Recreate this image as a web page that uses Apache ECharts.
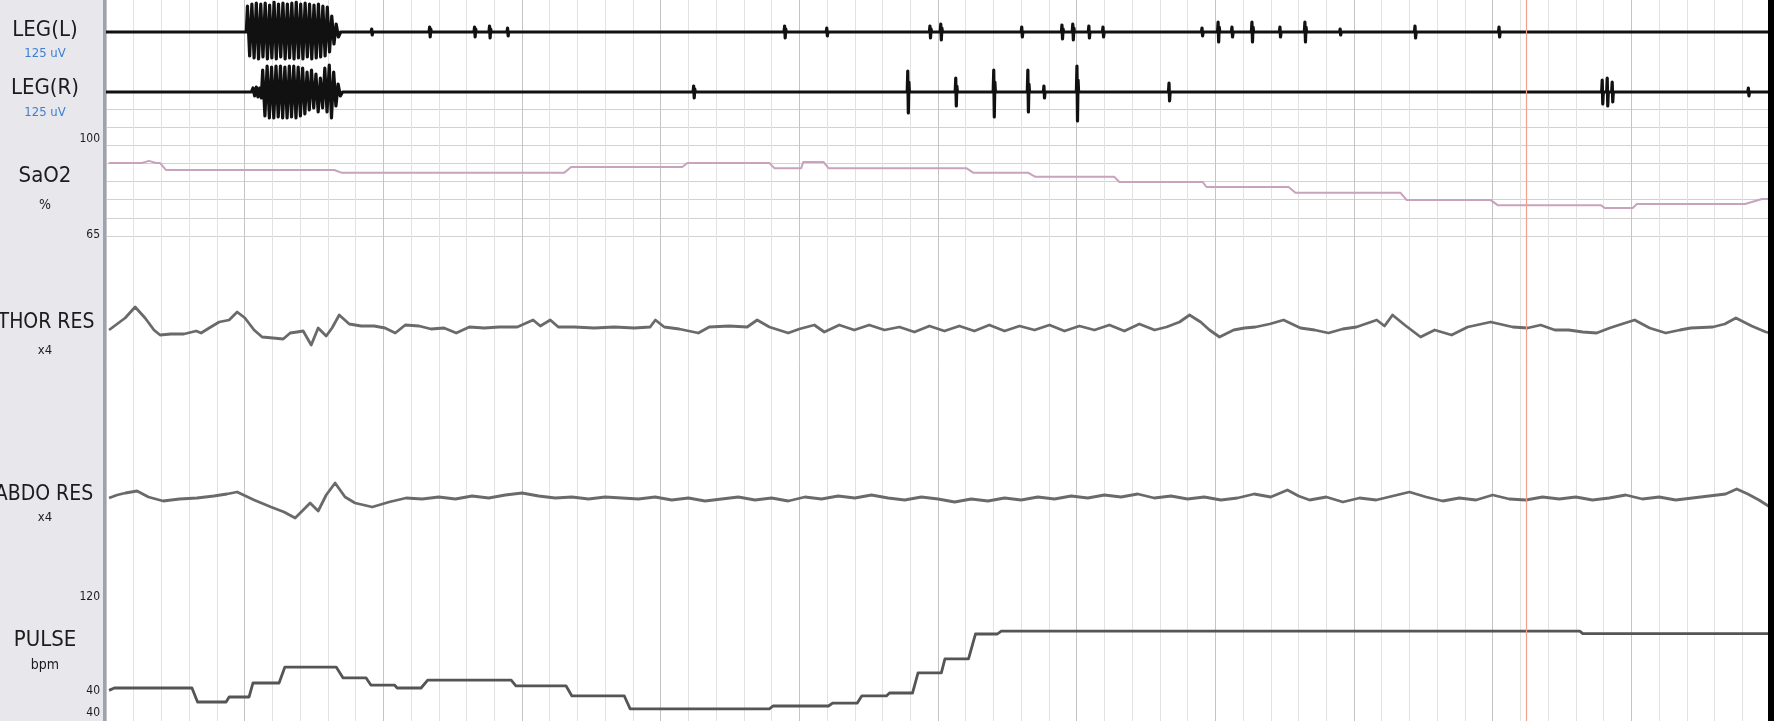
<!DOCTYPE html>
<html>
<head>
<meta charset="utf-8">
<script src="https://cdn.jsdelivr.net/npm/echarts@6/dist/echarts.min.js"></script>
<style>
html,body{margin:0;padding:0;background:#fff;}
#chart{width:1774px;height:721px;}
</style>
</head>
<body>
<div id="chart"></div>
<script>
// ---- Data (time in seconds across the 600 s page) ----
const channelNames = ['LEG(L)', 'LEG(R)', 'SaO2', 'THOR RES', 'ABDO RES', 'PULSE'];
const channelUnits = ['125 uV', '125 uV', '%', 'x4', 'x4', 'bpm'];
const saoTickLabels = ['100', '65'];
const pulseTickLabels = ['120', '40', '40'];
const cursorTime = 512;

const legL = [
[0,0],[17.6,0],[17.8,2],[18.0,-2],[18.2,0],
[50.6,0],[51.0,26],[51.8,-24],[52.6,28],[53.4,-26],[54.2,29],[55.0,-27],[55.8,28],[56.6,-25],[57.4,29],[58.2,-27],[59.0,27],[59.8,-26],[60.6,30],[61.4,-27],[62.2,28],[63.0,-25],[63.8,29],[64.6,-27],[65.4,28],[66.2,-26],[67.0,29],[67.8,-27],[68.6,30],[69.4,-26],[70.2,28],[71.0,-27],[71.8,29],[72.6,-25],[73.4,28],[74.2,-27],[75.0,27],[75.8,-26],[76.6,28],[77.4,-25],[78.2,26],[79.0,-24],[79.8,25],[80.6,-20],[81.4,16],[82.2,-12],[83.0,8],[83.8,-5],[84.6,0],
[95.6,0],[95.8,3],[96.0,-3],[96.2,0],
[104.6,0],[104.8,2],[105.0,-2],[105.2,0],
[116.5,0],[116.7,5],[116.9,-5],[117.1,3],[117.3,0],
[132.7,0],[132.9,5],[133.1,-5],[133.3,3],[133.5,0],
[138.1,0],[138.3,6],[138.5,-6],[138.7,3],[138.9,0],
[144.6,0],[144.8,4],[145.0,-4],[145.2,0],
[244.5,0],[244.7,6],[244.9,-6],[245.1,3],[245.3,0],
[259.7,0],[259.9,4],[260.1,-4],[260.3,0],
[296.9,0],[297.1,6],[297.3,-6],[297.5,3],[297.7,0],
[300.8,0],[301.0,8],[301.2,-8],[301.4,4],[301.6,0],
[330.0,0],[330.2,5],[330.4,-5],[330.6,0],
[344.5,0],[344.7,7],[344.9,-7],[345.1,3],[345.3,0],
[348.4,0],[348.6,8],[348.8,-8],[349.0,4],[349.2,0],
[354.2,0],[354.4,6],[354.6,-6],[354.8,0],
[359.3,0],[359.5,5],[359.7,-5],[359.9,0],
[395.0,0],[395.2,4],[395.4,-4],[395.6,0],
[400.8,0],[401.0,10],[401.2,-10],[401.4,5],[401.6,0],
[405.8,0],[406.0,5],[406.2,-5],[406.4,0],
[413.0,0],[413.2,10],[413.4,-10],[413.6,5],[413.8,0],
[423.1,0],[423.3,5],[423.5,-5],[423.7,0],
[432.1,0],[432.3,10],[432.5,-10],[432.7,5],[432.9,0],
[444.8,0],[445.0,3],[445.2,-3],[445.4,0],
[471.8,0],[472.0,6],[472.2,-6],[472.4,0],
[502.1,0],[502.3,5],[502.5,-5],[502.7,0],
[600,0]
];

const legR = [
[0,0],
[52.4,0],[53.0,4],[53.6,-4],[54.2,5],[54.8,-5],[55.4,4],[56.0,-6],[56.5,22],[57.3,-24],[58.1,26],[58.9,-26],[59.7,25],[60.5,-26],[61.3,26],[62.1,-25],[62.9,26],[63.7,-26],[64.5,25],[65.3,-26],[66.1,26],[66.9,-25],[67.7,26],[68.5,-26],[69.3,25],[70.1,-24],[70.9,24],[71.7,-22],[72.5,20],[73.3,-18],[74.1,22],[74.9,-16],[75.7,18],[76.5,-20],[77.3,14],[78.1,-16],[78.9,24],[79.7,-20],[80.5,27],[81.3,-26],[82.1,20],[82.9,-14],[83.7,8],[84.5,-4],[85.3,0],
[211.7,0],[211.9,6],[212.1,-6],[212.3,3],[212.5,0],
[288.9,0],[289.1,21],[289.3,-21],[289.5,10],[289.7,0],
[306.2,0],[306.4,14],[306.6,-14],[306.8,6],[307.0,0],
[319.9,0],[320.1,22],[320.3,-25],[320.5,10],[320.7,0],
[332.2,0],[332.4,22],[332.6,-20],[332.8,8],[333.0,0],
[338.0,0],[338.2,6],[338.4,-6],[338.6,0],
[349.9,0],[350.1,26],[350.3,-29],[350.5,12],[350.7,0],
[383.1,0],[383.3,9],[383.5,-9],[383.7,0],
[539.3,0],[539.5,12],[539.7,-12],[539.9,0],
[541.1,0],[541.3,14],[541.5,-14],[541.7,0],
[542.9,0],[543.1,10],[543.3,-10],[543.5,0],
[592.0,0],[592.2,4],[592.4,-4],[592.6,0],
[600,0]
];

const sao2 = [
[1,85.1],[13,85.1],[15.5,85.7],[18,85.1],[19.5,85.1],[21.6,83.2],[82.3,83.2],[85.1,82.4],[165.2,82.4],[167.7,84.0],[207.8,84.0],[209.6,85.1],[239.2,85.1],[241.0,83.7],[250.7,83.7],[251.4,85.4],[258.7,85.4],[260.5,83.7],[310.2,83.7],[312.8,82.4],[332.6,82.4],[335.1,81.3],[363.6,81.3],[365.4,79.9],[395.4,79.9],[396.8,78.5],[426.4,78.5],[428.9,76.9],[466.8,76.9],[469.0,74.9],[499.3,74.9],[501.8,73.5],[539.0,73.5],[540.4,72.7],[550.5,72.7],[552.0,73.8],[591.0,73.8],[597.1,75.2],[600,75.2]
];

const thor = [
[1.1,-2],[4.0,4],[6.9,10],[10.5,21],[14.1,10],[17.3,-2],[19.5,-7],[23.4,-6],[28.1,-6],[32.5,-3],[34.3,-5],[37.2,0],[40.8,6],[44.4,8],[47.3,16],[50.1,10],[53.4,-2],[56.3,-9],[60.2,-10],[63.9,-11],[66.4,-5],[68.9,-4],[71.1,-3],[74.0,-17],[76.5,0],[79.4,-8],[81.5,0],[84.1,13],[87.7,4],[92.0,2],[96.7,2],[100.6,0],[104.3,-5],[107.9,3],[112.9,2],[117.2,-1],[121.9,0],[126.3,-5],[131.0,1],[136.4,0],[141.8,1],[148.3,1],[154.0,8],[156.6,2],[160.2,8],[163.1,1],[168.8,1],[176.0,0],[183.3,1],[190.5,0],[196.2,1],[198.1,8],[201.3,1],[206.7,-1],[213.6,-5],[217.5,1],[224.7,2],[231.2,1],[234.8,8],[239.2,1],[246.0,-5],[250.0,-1],[255.4,3],[259.0,-4],[264.4,3],[269.8,-2],[275.2,3],[280.7,-2],[286.1,1],[291.5,-4],[296.9,2],[302.3,-3],[307.7,2],[313.1,-3],[318.5,3],[324.0,-3],[329.4,2],[334.8,-2],[340.2,3],[345.6,-3],[351.0,2],[356.4,-2],[361.8,3],[367.2,-3],[372.6,4],[378.1,-2],[382.4,1],[387.1,6],[390.7,13],[394.7,6],[397.9,-2],[401.5,-9],[406.6,-2],[410.5,0],[414.5,1],[419.6,4],[424.6,8],[430.7,0],[435.8,-2],[440.8,-5],[445.9,-1],[450.9,1],[458.2,8],[461.0,2],[463.9,13],[468.3,3],[474.0,-9],[479.1,-2],[485.2,-7],[491.0,1],[499.3,6],[507.2,1],[512.6,0],[517.3,3],[522.4,-2],[527.4,-2],[532.5,-4],[537.5,-5],[542.2,0],[545.5,3],[551.2,8],[556.6,0],[562.4,-5],[567.5,-2],[571.4,0],[579.4,1],[583.7,4],[587.7,10],[593.4,2],[598.5,-4],[600,-5]
];

const abdo = [
[1.1,0],[4.0,3],[7.0,5],[11.2,7],[15.3,1],[20.6,-3],[26.5,-1],[32.8,0],[38.9,2],[43.6,4],[47.3,6],[53.4,-2],[59.5,-9],[64.2,-14],[68.2,-20],[71.1,-12],[73.6,-5],[76.5,-13],[79.4,3],[82.6,15],[86.2,1],[89.8,-5],[96.0,-9],[102.1,-4],[108.2,0],[114,-1],[120,1],[126,-1],[132,2],[138,0],[144,3],[150,5],[156,2],[162,0],[168,1],[174,-1],[180,1],[186,0],[192,-1],[198,1],[204,-2],[210,0],[216,-3],[222,-1],[228,1],[234,-2],[240,0],[246,-3],[252,1],[258,-1],[264,2],[270,0],[276,3],[282,0],[288,-2],[294,1],[300,-1],[306,-4],[312,-1],[318,-3],[324,0],[330,-2],[336,1],[342,-1],[348,2],[354,0],[360,3],[366,1],[372,4],[378,0],[384,2],[390,-1],[396,1],[402,-2],[408,0],[414,4],[420,1],[426,8],[430,2],[434,-2],[440,1],[446,-4],[452,0],[458,-2],[464,2],[470,6],[476,1],[482,-3],[488,0],[494,-2],[500,3],[506,-1],[512,-2],[518,1],[524,-1],[530,1],[536,-2],[542,0],[548,3],[554,-1],[560,1],[566,-2],[572,0],[578,2],[584,4],[588,9],[592,4],[596,-2],[600,-9]
];

const pulse = [
[1.1,54],[3.0,55.6],[31.0,55.6],[33.0,46.1],[43.3,46.1],[44.4,49.5],[51.6,49.5],[53.0,59],[62.4,59],[64.5,69.8],[83.0,69.8],[85.5,62.4],[93.8,62.4],[95.5,57.6],[104,57.6],[105,55.6],[113.6,55.6],[116.0,61],[146.1,61],[147.8,57],[165.9,57],[168.0,50.2],[186.9,50.2],[189.0,41.4],[239.2,41.4],[240.5,43.4],[260.5,43.4],[262.0,45.4],[270.9,45.4],[272.5,50.2],[281.4,50.2],[282.5,52.2],[290.8,52.2],[292.8,65.8],[301.2,65.8],[302.5,75.3],[311.0,75.3],[313.5,92.2],[321.4,92.2],[322.8,94.2],[531.4,94.2],[532.5,92.5],[600,92.5]
];

// ---- Chart ----
const chart = echarts.init(document.getElementById('chart'), null, {renderer: 'canvas'});
const L = 106, R = 4;
const FONT = "'Liberation Sans Narrow','DejaVu Sans Condensed','Arial Narrow',sans-serif";

const grids = [
  {left: L, right: R, top: 0, height: 721},   // background time grid
  {left: L, right: R, top: 2, height: 60},    // LEG(L)
  {left: L, right: R, top: 62, height: 60},   // LEG(R)
  {left: L, right: R, top: 109, height: 127}, // SaO2
  {left: L, right: R, top: 278, height: 100}, // THOR
  {left: L, right: R, top: 448, height: 100}, // ABDO
  {left: L, right: R, top: 593, height: 118}  // PULSE
];

const hidden = {axisLine:{show:false}, axisTick:{show:false}, axisLabel:{show:false}};
const xAxes = [
  Object.assign({gridIndex:0, type:'value', min:0, max:600, interval:10,
    splitLine:{show:true, lineStyle:{color:'#e2e2e2', width:1}}}, hidden),
  Object.assign({gridIndex:0, type:'value', min:0, max:600, interval:50, position:'top',
    splitLine:{show:true, lineStyle:{color:'#c4c4c4', width:1}}}, hidden)
];
for (let i = 1; i <= 6; i++) xAxes.push({gridIndex:i, type:'value', min:0, max:600, show:false});

const yAxes = [
  {gridIndex:0, type:'value', min:0, max:1, show:false},
  {gridIndex:1, type:'value', min:-30, max:30, show:false},
  {gridIndex:2, type:'value', min:-30, max:30, show:false},
  Object.assign({gridIndex:3, type:'value', min:65, max:100, interval:5,
    splitLine:{show:true, lineStyle:{color:'#d2d2d2', width:1}}}, hidden),
  {gridIndex:4, type:'value', min:-50, max:50, show:false},
  {gridIndex:5, type:'value', min:-50, max:50, show:false},
  {gridIndex:6, type:'value', min:40, max:120, show:false}
];

function trace(name, data, idx, color, width) {
  return {name, type:'line', data, xAxisIndex: idx + 1, yAxisIndex: idx,
    showSymbol:false, symbol:'none', silent:true, z: 3,
    lineStyle:{color, width, join:'round'}};
}

function txt(text, x, y, size, color, align) {
  return {type:'text', x, y, z: 10, silent:true,
    style:{text, font: size + 'px ' + FONT, fill: color, align: align || 'center', verticalAlign:'middle'}};
}

const dark = '#1c1c1c', blue = '#3d7fd1';
const graphics = [
  {type:'rect', shape:{x:0, y:0, width:103, height:721}, style:{fill:'#e7e7ec'}, z:0, silent:true},
  {type:'rect', shape:{x:103, y:0, width:3, height:721}, style:{fill:'#9aa2b3'}, z:1, silent:true},
  {type:'rect', shape:{x:1768, y:0, width:6, height:721}, style:{fill:'#000'}, z:20, silent:true},
  txt(channelNames[0], 45, 30, 22, dark),
  txt(channelUnits[0], 45, 54, 13, blue),
  txt(channelNames[1], 45, 88, 22, dark),
  txt(channelUnits[1], 45, 113, 13, blue),
  txt(saoTickLabels[0], 100, 139, 12, dark, 'right'),
  txt(channelNames[2], 45, 176, 22, dark),
  txt(channelUnits[2], 45, 205, 14, dark),
  txt(saoTickLabels[1], 100, 235, 12, dark, 'right'),
  txt(channelNames[3], 46, 323, 21, dark),
  txt(channelUnits[3], 45, 351, 13, dark),
  txt(channelNames[4], 44, 495, 21, dark),
  txt(channelUnits[4], 45, 518, 13, dark),
  txt(pulseTickLabels[0], 100, 597, 12, dark, 'right'),
  txt(channelNames[5], 45, 640, 22, dark),
  txt(channelUnits[5], 45, 665, 14, dark),
  txt(pulseTickLabels[1], 100, 691, 12, dark, 'right'),
  txt(pulseTickLabels[2], 100, 713, 12, dark, 'right')
];

chart.setOption({
  animation: false,
  backgroundColor: '#ffffff',
  grid: grids,
  xAxis: xAxes,
  yAxis: yAxes,
  graphic: graphics,
  series: [
    {type:'line', data:[], xAxisIndex:0, yAxisIndex:0, silent:true,
      markLine:{symbol:'none', silent:true, label:{show:false},
        lineStyle:{color:'#f2a08c', width:1.2, type:'solid'},
        data:[{xAxis: cursorTime}]}},
    trace('LEG(L)', legL, 1, '#111111', 3.2),
    trace('LEG(R)', legR, 2, '#111111', 3.2),
    trace('SaO2', sao2, 3, '#c9a2bd', 2),
    trace('THOR RES', thor, 4, '#6a6a6a', 2.8),
    trace('ABDO RES', abdo, 5, '#6a6a6a', 2.8),
    trace('PULSE', pulse, 6, '#555555', 2.8)
  ]
});
</script>
</body>
</html>
